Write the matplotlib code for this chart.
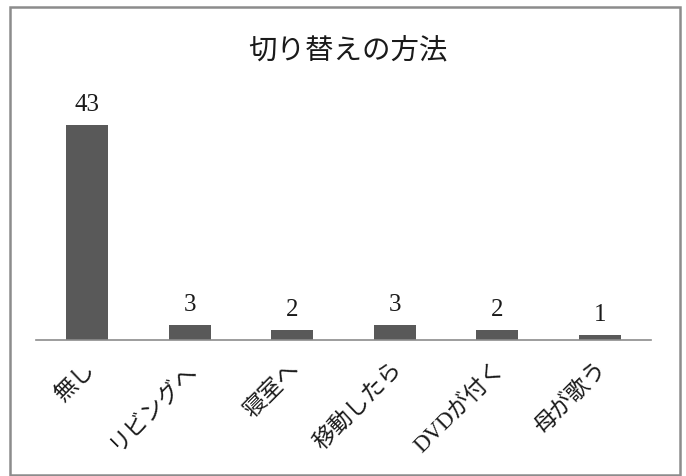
import matplotlib
matplotlib.use("Agg")
import matplotlib.pyplot as plt
from matplotlib.patches import Rectangle

categories = ["無し", "リビングへ", "寝室へ", "移動したら", "DVDが付く", "母が歌う"]
values = [43, 3, 2, 3, 2, 1]
title = "切り替えの方法"

W, H = 686, 477
fig = plt.figure(figsize=(W / 100, H / 100), dpi=100)

# outer chart frame
fig.patches.append(Rectangle((10 / W, 1 - 476 / H), 670 / W, 468 / H,
                             transform=fig.transFigure, fill=False,
                             edgecolor="#8c8c8c", linewidth=1.8))

ax = fig.add_axes([36 / W, 1 - 341 / H, 615 / W, 250 / H])
x = list(range(len(categories)))
ax.bar(x, values, width=0.41, color="#595959")
ax.set_xlim(-0.5, len(categories) - 0.5)
ax.set_ylim(0, 50)

for s in ["top", "right", "left"]:
    ax.spines[s].set_visible(False)
ax.spines["bottom"].set_color("#8c8c8c")
ax.spines["bottom"].set_linewidth(1.2)
ax.set_yticks([])
ax.tick_params(axis="x", length=0, pad=0)
ax.set_xticks(x)
ax.set_xticklabels([])

for xi, v, c in zip(x, values, categories):
    ax.annotate(str(v), (xi, v), xytext=(0, 7), textcoords="offset points",
                ha="center", va="bottom", fontsize=18,
                family=["Liberation Serif", "DejaVu Serif"], color="#1a1a1a")
    ax.annotate(c, (xi, 0), xytext=(2.8, -18), textcoords="offset points",
                ha="right", va="center", rotation=45, rotation_mode="anchor",
                fontsize=16.5, family=["Liberation Serif", "Noto Sans CJK JP"],
                color="#1a1a1a")

fig.text(348 / W, 1 - 50 / H, title, ha="center", va="center", fontsize=20.5,
         family=["Noto Sans CJK JP"], color="#1a1a1a")

fig.savefig("out.png", dpi=100)
